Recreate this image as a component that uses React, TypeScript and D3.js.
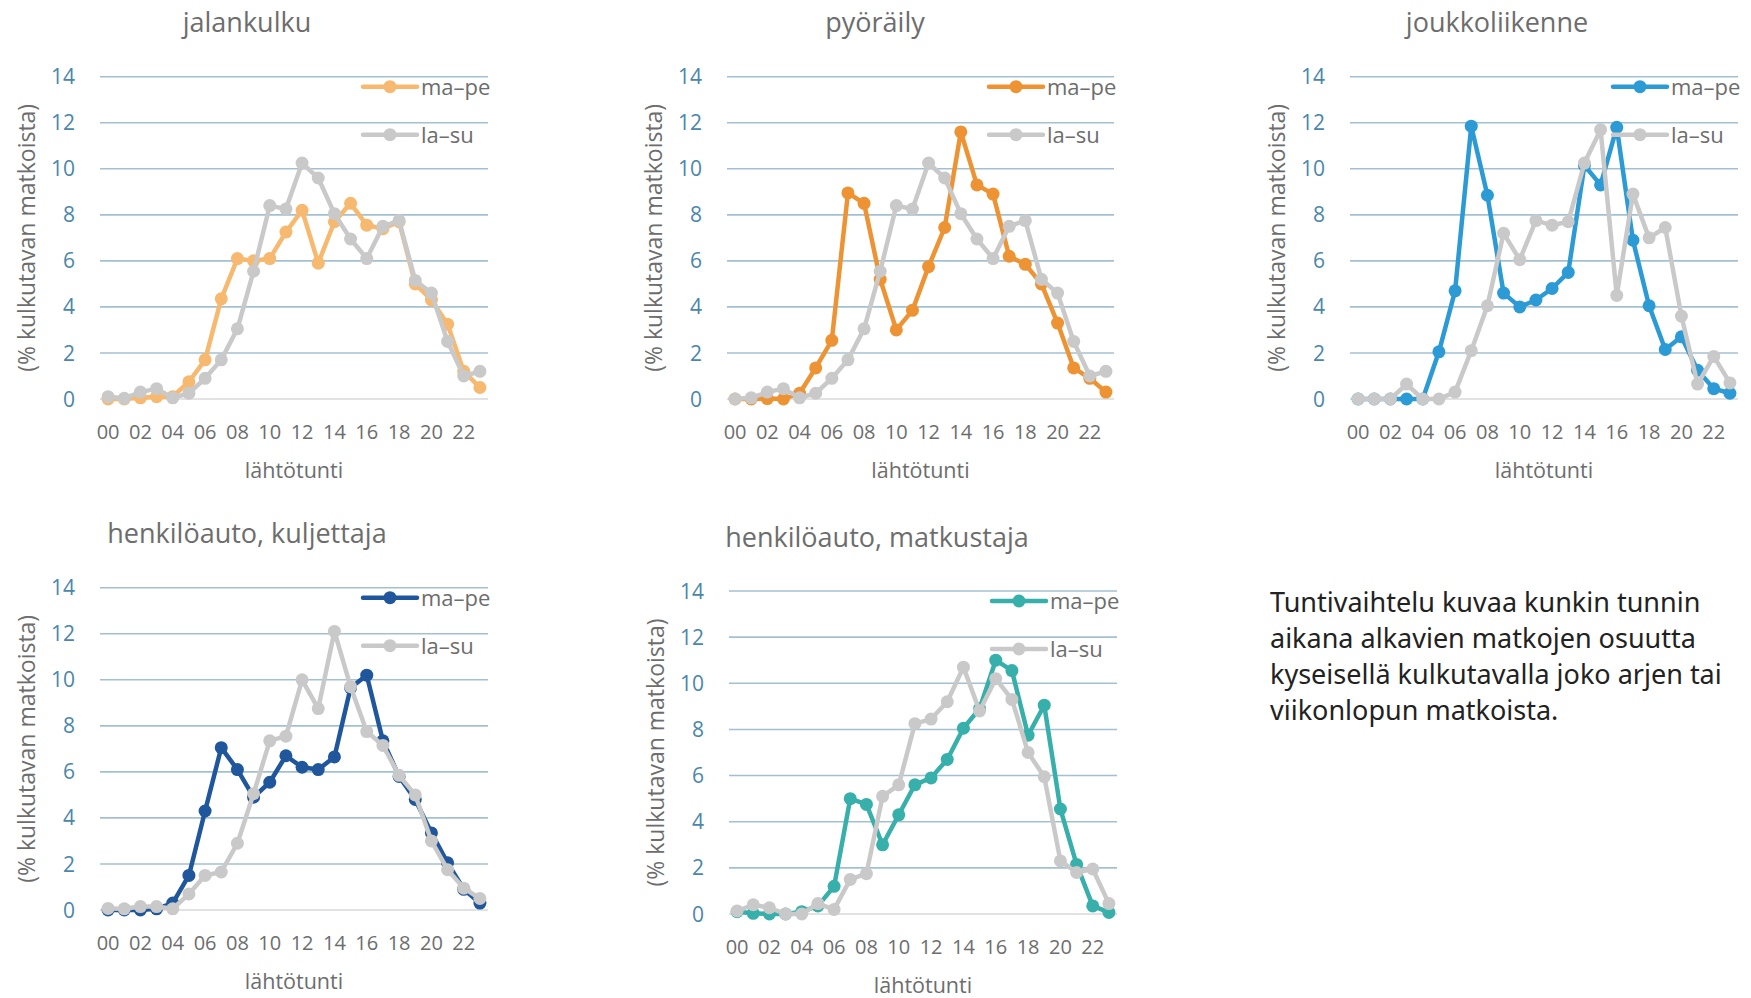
import { useEffect, useRef } from 'react';
import * as d3 from 'd3';

// tunnit 00..23
const hours = d3.range(24);
const tickHours = ['00', '02', '04', '06', '08', '10', '12', '14', '16', '18', '20', '22'];
const yTicks = [0, 2, 4, 6, 8, 10, 12, 14];

const jalankulkuArki = [0.0, 0.0, 0.05, 0.1, 0.1, 0.75, 1.7, 4.35, 6.1, 6.0, 6.1, 7.25, 8.2, 5.9, 7.7, 8.5, 7.55, 7.4, 7.7, 5.0, 4.3, 3.25, 1.2, 0.5];
const jalankulkuViikonloppu = [0.1, 0.03, 0.3, 0.45, 0.05, 0.25, 0.9, 1.7, 3.05, 5.55, 8.4, 8.25, 10.25, 9.6, 8.05, 6.95, 6.1, 7.5, 7.75, 5.15, 4.6, 2.5, 1.0, 1.2];

const pyorailyArki = [0.0, 0.0, 0.02, 0.0, 0.25, 1.35, 2.55, 8.95, 8.5, 5.2, 3.0, 3.85, 5.75, 7.45, 11.6, 9.3, 8.9, 6.2, 5.85, 5.0, 3.3, 1.35, 0.9, 0.3];
const pyorailyViikonloppu = [0.0, 0.05, 0.3, 0.45, 0.05, 0.25, 0.9, 1.7, 3.05, 5.55, 8.4, 8.25, 10.25, 9.6, 8.05, 6.95, 6.1, 7.5, 7.75, 5.2, 4.6, 2.5, 1.0, 1.2];

const joukkoArki = [0.0, 0.0, 0.0, 0.0, 0.0, 2.05, 4.7, 11.85, 8.85, 4.6, 4.0, 4.3, 4.8, 5.5, 10.15, 9.3, 11.8, 6.9, 4.05, 2.15, 2.7, 1.25, 0.45, 0.25];
const joukkoViikonloppu = [0.0, 0.0, 0.0, 0.65, 0.0, 0.0, 0.3, 2.1, 4.05, 7.2, 6.05, 7.75, 7.55, 7.7, 10.25, 11.7, 4.5, 8.9, 7.0, 7.45, 3.6, 0.65, 1.85, 0.7];

const kuljettajaArki = [0.0, 0.0, 0.0, 0.05, 0.3, 1.5, 4.3, 7.05, 6.1, 4.9, 5.55, 6.7, 6.2, 6.1, 6.65, 9.65, 10.2, 7.35, 5.8, 4.8, 3.35, 2.05, 0.9, 0.3];
const kuljettajaViikonloppu = [0.07, 0.05, 0.15, 0.15, 0.05, 0.7, 1.5, 1.65, 2.9, 5.05, 7.35, 7.55, 10.0, 8.75, 12.1, 9.7, 7.75, 7.15, 5.85, 5.0, 3.0, 1.75, 0.95, 0.5];

const matkustajaArki = [0.1, 0.03, 0.0, 0.0, 0.1, 0.35, 1.2, 5.0, 4.75, 3.0, 4.3, 5.6, 5.9, 6.7, 8.05, 8.9, 11.0, 10.55, 7.75, 9.05, 4.55, 2.15, 0.35, 0.07];
const matkustajaViikonloppu = [0.13, 0.4, 0.27, 0.0, 0.0, 0.45, 0.2, 1.5, 1.75, 5.1, 5.6, 8.25, 8.45, 9.2, 10.7, 8.8, 10.2, 9.3, 7.0, 5.95, 2.3, 1.8, 1.95, 0.45];

const noteLines = [
    'Tuntivaihtelu kuvaa kunkin tunnin',
    'aikana alkavien matkojen osuutta',
    'kyseisellä kulkutavalla joko arjen tai',
    'viikonlopun matkoista.',
];

const GRAY = '#c9c9c9';
const FONT = '"Open Sans", sans-serif';

// paneelien sijainti kuvassa
const panels = [
    { title: 'jalankulku', color: '#f6b96f', arki: jalankulkuArki, vkl: jalankulkuViikonloppu, left: 100, right: 488, top: 76.7, bottom: 399, titleX: 247 },
    { title: 'pyöräily', color: '#ee9334', arki: pyorailyArki, vkl: pyorailyViikonloppu, left: 727, right: 1114, top: 76.7, bottom: 399, titleX: 875 },
    { title: 'joukkoliikenne', color: '#2b9ad5', arki: joukkoArki, vkl: joukkoViikonloppu, left: 1350, right: 1738, top: 76.7, bottom: 399, titleX: 1497 },
    { title: 'henkilöauto, kuljettaja', color: '#1f569c', arki: kuljettajaArki, vkl: kuljettajaViikonloppu, left: 100, right: 488, top: 587.7, bottom: 910, titleX: 247 },
    { title: 'henkilöauto, matkustaja', color: '#37afaa', arki: matkustajaArki, vkl: matkustajaViikonloppu, left: 729, right: 1117, top: 591, bottom: 914, titleX: 877 },
];

const App = () => {
    const ref = useRef(null);

    useEffect(() => {
        const svg = d3.select(ref.current);
        svg.selectAll('*').remove();

        panels.forEach(p => {
            const g = svg.append('g');

            const x = d3.scalePoint()
                .domain(hours.map(String))
                .range([p.left, p.right])
                .padding(0.5);
            const y = d3.scaleLinear()
                .domain([0, 14])
                .range([p.bottom, p.top]);

            // gridlines
            g.append('g')
                .selectAll('line')
                .data(yTicks)
                .join('line')
                .attr('x1', p.left)
                .attr('x2', p.right)
                .attr('y1', d => y(d))
                .attr('y2', d => y(d))
                .attr('stroke', d => d === 0 ? '#d9d9d9' : '#a3c0d1')
                .attr('stroke-width', 1.6);

            // y tick labels
            g.append('g')
                .selectAll('text')
                .data(yTicks)
                .join('text')
                .attr('x', p.left - 25)
                .attr('y', d => y(d))
                .attr('dy', '0.36em')
                .attr('text-anchor', 'end')
                .attr('fill', '#4a87aa')
                .style('font', `21px ${FONT}`)
                .text(d => d);

            // x tick labels
            g.append('g')
                .selectAll('text')
                .data(tickHours)
                .join('text')
                .attr('x', d => x(String(+d)))
                .attr('y', p.bottom + 33)
                .attr('dy', '0.36em')
                .attr('text-anchor', 'middle')
                .attr('fill', '#6d6d6d')
                .style('font', `20px ${FONT}`)
                .text(d => d);

            g.append('text')
                .attr('x', (p.left + p.right) / 2)
                .attr('y', p.bottom + 71)
                .attr('dy', '0.36em')
                .attr('text-anchor', 'middle')
                .attr('fill', '#6d6d6d')
                .style('font', `21.5px ${FONT}`)
                .text('lähtötunti');

            g.append('text')
                .attr('transform', `translate(${p.left - 73},${(p.top + p.bottom) / 2}) rotate(-90)`)
                .attr('dy', '0.36em')
                .attr('text-anchor', 'middle')
                .attr('fill', '#6d6d6d')
                .style('font', `23px ${FONT}`)
                .text('(% kulkutavan matkoista)');

            g.append('text')
                .attr('x', p.titleX)
                .attr('y', p.top - 54)
                .attr('dy', '0.36em')
                .attr('text-anchor', 'middle')
                .attr('fill', '#6d6d6d')
                .style('font', `27px ${FONT}`)
                .text(p.title);

            const line = d3.line()
                .x((d, i) => x(String(i)))
                .y(d => y(d));

            const series = [
                { name: 'ma–pe', values: p.arki, color: p.color },
                { name: 'la–su', values: p.vkl, color: GRAY },
            ];

            series.forEach((s, k) => {
                const sg = g.append('g');
                sg.append('path')
                    .datum(s.values)
                    .attr('d', line)
                    .attr('fill', 'none')
                    .attr('stroke', s.color)
                    .attr('stroke-width', 4.5)
                    .attr('stroke-linejoin', 'round');
                sg.selectAll('circle')
                    .data(s.values)
                    .join('circle')
                    .attr('cx', (d, i) => x(String(i)))
                    .attr('cy', d => y(d))
                    .attr('r', 6.5)
                    .attr('fill', s.color);

                // legend
                const ly = p.top + 10 + k * 48;
                const lx0 = p.right - 125;
                const lx1 = p.right - 71;
                sg.append('line')
                    .attr('x1', lx0).attr('x2', lx1)
                    .attr('y1', ly).attr('y2', ly)
                    .attr('stroke', s.color)
                    .attr('stroke-width', 4.5)
                    .attr('stroke-linecap', 'round');
                sg.append('circle')
                    .attr('cx', (lx0 + lx1) / 2)
                    .attr('cy', ly)
                    .attr('r', 6.5)
                    .attr('fill', s.color);
                sg.append('text')
                    .attr('x', p.right - 67)
                    .attr('y', ly)
                    .attr('dy', '0.36em')
                    .attr('fill', '#6d6d6d')
                    .style('font', `22px ${FONT}`)
                    .text(s.name);
            });
        });

        // selite
        svg.append('g')
            .selectAll('text')
            .data(noteLines)
            .join('text')
            .attr('x', 1270)
            .attr('y', (d, i) => 612 + i * 36)
            .attr('fill', '#222')
            .style('font', '27px "Noto Sans", sans-serif')
            .text(d => d);
    }, []);

    return (
        <svg ref={ref} width={1751} height={998} style={{ position: 'absolute', left: 0, top: 0, background: '#fff' }} />
    );
};

export default App;
